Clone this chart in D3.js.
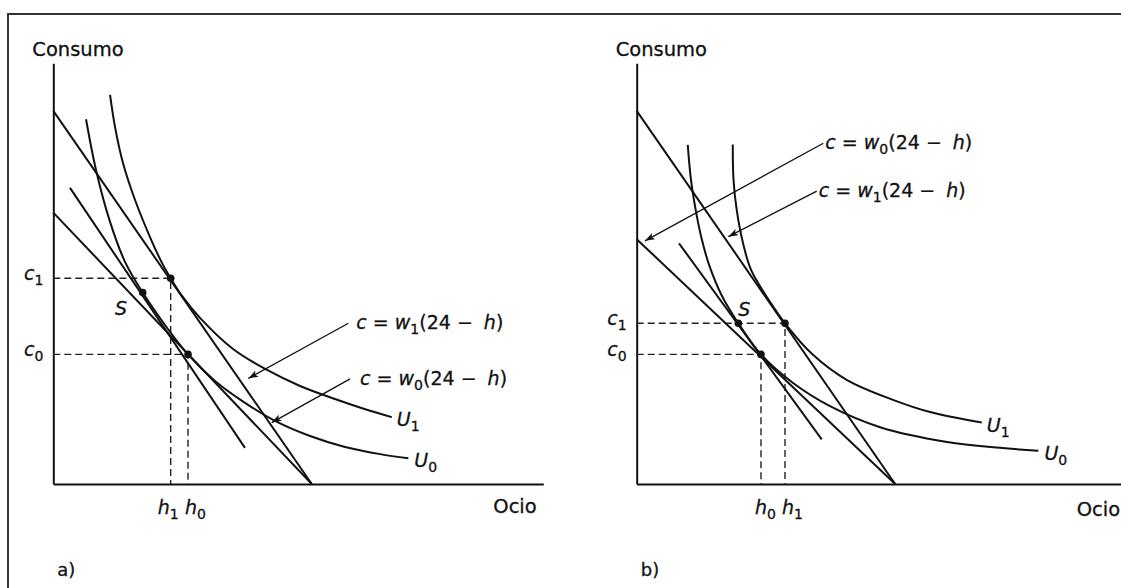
<!DOCTYPE html>
<html lang="es">
<head>
<meta charset="utf-8">
<title>Consumo y ocio</title>
<script src="https://d3js.org/d3.v7.min.js"></script>
<style>
  body{ margin:0; background:#fff; }
  svg{ display:block; font-family:'DejaVu Sans', sans-serif; }
  text{ fill:#111; stroke:#111; stroke-width:0.3; }
  .frame{ fill:none; stroke:#333; stroke-width:2; }
  .axis path{ stroke:#111; stroke-width:2; }
  .curve{ fill:none; stroke:#111; stroke-width:2; }
  .guide{ fill:none; stroke:#222; stroke-width:1.4; stroke-dasharray:7,4; }
  .pointer{ stroke:#111; stroke-width:1.3; }
  .title{ font-size:19.5px; }
  .lbl{ font-size:19px; }
  .eq{ font-size:19px; }
  .sub{ font-size:14px; font-style:normal; }
  .panel{ font-size:18px; }
</style>
</head>
<body>
<div id="chart"></div>
<script>
// h = horas de ocio (0..24 en el corte de la recta), c = consumo (unidades relativas)

// panel a)
const uA0 = [[3.04,86.7],[3.97,74.6],[5.27,62.3],[6.66,52.8],[8.30,45.5],[10.37,37.8],[12.51,30.8],
             [15.02,24.5],[17.80,19.3],[20.59,15.0],[23.84,11.4],[27.09,8.8],[30.34,7.1],[32.97,6.1]];
const uA1 = [[5.27,92.5],[5.73,84.9],[6.47,76.3],[7.59,67.5],[8.98,58.7],[10.10,52.5],[10.90,48.9],
             [11.95,44.7],[13.62,39.5],[16.69,32.1],[19.85,27.1],[22.91,23.3],[26.16,20.2],[29.41,17.4],[31.43,15.9]];
const lineA_w1 = [[0,88.7],[24,0]];
const lineA_w0 = [[0,64.5],[24,0]];
const lineA_comp = [[1.55,70.4],[17.80,8.6]];
const ptsA = [[10.90,48.9],[12.51,30.8],[8.30,45.5]];   // (h1,c1), (h0,c0), S

// panel b)
const uB0 = [[4.74,80.6],[5.04,72.3],[5.51,64.7],[6.06,58.0],[6.72,52.1],[7.92,44.7],[9.44,38.2],
             [11.54,30.8],[14.52,24.0],[17.95,18.5],[22.60,13.5],[28.82,10.0],[33.74,8.6],[37.30,7.9]];
const uB1 = [[8.92,80.7],[8.99,72.3],[9.29,65.1],[9.87,57.3],[10.62,50.9],[12.38,43.3],[13.77,38.2],
             [16.37,30.7],[19.53,24.7],[23.80,20.0],[27.24,17.1],[32.04,14.6]];
const lineB_w1 = [[0,88.7],[24,0]];
const lineB_w0 = [[0,58.2],[24,0]];
const lineB_comp = [[3.93,57.2],[17.18,10.6]];
const ptsB = [[13.77,38.2],[11.54,30.8],[9.44,38.2]];   // (h1,c1), (h0,c0), S

const W = 1121, H = 588;

const x = d3.scaleLinear().domain([0, 45.5]).range([0, 490]);
const y = d3.scaleLinear().domain([0, 100]).range([420.7, 0]);

const smooth = d3.line().x(d => x(d[0])).y(d => y(d[1])).curve(d3.curveCatmullRom.alpha(0.5));
const straight = d3.line().x(d => x(d[0])).y(d => y(d[1]));

const svg = d3.select('#chart').append('svg').attr('width', W).attr('height', H);

svg.append('defs').append('marker')
  .attr('id', 'arrow').attr('viewBox', '0 0 10 7').attr('refX', 10).attr('refY', 3.5)
  .attr('markerUnits', 'userSpaceOnUse').attr('markerWidth', 10).attr('markerHeight', 7)
  .attr('orient', 'auto')
  .append('path').attr('d', 'M0,0 L10,3.5 L0,7 L2.5,3.5 Z').attr('fill', '#111');

svg.append('path').attr('class', 'frame').attr('d', 'M8,' + H + ' V14 H' + W);

function sublabel(g, px, py, letter, sub, anchor){
  const t = g.append('text').attr('class', 'lbl').attr('x', px).attr('y', py)
    .attr('text-anchor', anchor || 'start');
  t.append('tspan').attr('font-style', 'italic').text(letter);
  t.append('tspan').attr('class', 'sub').attr('dy', 5).text(sub);
  return t;
}

function equation(g, px, py, sub){
  const t = g.append('text').attr('class', 'eq').attr('x', px).attr('y', py);
  t.append('tspan').attr('font-style', 'italic').text('c');
  t.append('tspan').text(' = ');
  t.append('tspan').attr('font-style', 'italic').text('w');
  t.append('tspan').attr('class', 'sub').attr('dy', 5).text(sub);
  t.append('tspan').attr('dy', -5).text('(24 −');
  t.append('tspan').attr('font-style', 'italic').attr('dx', 11).text('h');
  t.append('tspan').text(')');
}

function drawPanel(cfg){
  const g = svg.append('g').attr('transform', 'translate(' + cfg.ox + ',63.3)');

  g.append('g').attr('class', 'axis').attr('transform', 'translate(0,' + y(0) + ')')
    .call(d3.axisBottom(x).tickValues([]).tickSizeOuter(0));
  g.append('g').attr('class', 'axis')
    .call(d3.axisLeft(y).tickValues([]).tickSizeOuter(0));

  g.append('text').attr('class', 'title').attr('x', -21).attr('y', -7.5).text('Consumo');
  g.append('text').attr('class', 'title').attr('x', 440).attr('y', y(0) + cfg.ocioY).text('Ocio');
  g.append('text').attr('class', 'panel').attr('x', 4).attr('y', y(0) + 92).text(cfg.name);

  // guias punteadas
  const guides = [cfg.pts[0], cfg.pts[1]];
  g.selectAll('.guide').data(guides).enter().append('path').attr('class', 'guide')
    .attr('d', d => 'M0,' + y(d[1]) + 'H' + x(d[0]) + 'V' + y(0));

  [cfg.w1, cfg.w0, cfg.comp].forEach(l => g.append('path').attr('class', 'curve').attr('d', straight(l)));
  [cfg.u0, cfg.u1].forEach(u => g.append('path').attr('class', 'curve').attr('d', smooth(u)));

  g.selectAll('circle').data(cfg.pts).enter().append('circle')
    .attr('cx', d => x(d[0])).attr('cy', d => y(d[1])).attr('r', 3.8).attr('fill', '#111');

  // etiquetas de los ejes
  sublabel(g, -10, y(cfg.pts[0][1]) + 2, 'c', '1', 'end');
  sublabel(g, -10, y(cfg.pts[1][1]) + 2, 'c', '0', 'end');
  sublabel(g, x(cfg.pts[0][0]) + cfg.hdx[0], y(0) + 30, 'h', '1');
  sublabel(g, x(cfg.pts[1][0]) + cfg.hdx[1], y(0) + 30, 'h', '0');

  g.append('text').attr('class', 'lbl').attr('font-style', 'italic')
    .attr('x', x(cfg.pts[2][0]) + cfg.sOff[0]).attr('y', y(cfg.pts[2][1]) + cfg.sOff[1]).text('S');

  const e0 = cfg.u0[cfg.u0.length - 1], e1 = cfg.u1[cfg.u1.length - 1];
  sublabel(g, x(e1[0]) + 5, y(e1[1]) + 9, 'U', '1');
  sublabel(g, x(e0[0]) + 6, y(e0[1]) + 9, 'U', '0');

  cfg.notes.forEach(n => {
    g.append('line').attr('class', 'pointer')
      .attr('x1', x(n.from[0])).attr('y1', y(n.from[1]))
      .attr('x2', x(n.to[0])).attr('y2', y(n.to[1]))
      .attr('marker-end', 'url(#arrow)');
    equation(g, x(n.from[0]) + n.dx, y(n.from[1]) + 6, n.sub);
  });
}

drawPanel({
  name: 'a)', ox: 53.3, ocioY: 29,
  u0: uA0, u1: uA1, w1: lineA_w1, w0: lineA_w0, comp: lineA_comp, pts: ptsA,
  hdx: [-13, -3], sOff: [-27.7, 22.4],
  notes: [
    { sub: '1', from: [27.40, 38.2], to: [18.11, 25.1], dx: 8 },
    { sub: '0', from: [27.56, 25.0], to: [20.28, 14.6], dx: 10 }
  ]
});

drawPanel({
  name: 'b)', ox: 636.7, ocioY: 32,
  u0: uB0, u1: uB1, w1: lineB_w1, w0: lineB_w0, comp: lineB_comp, pts: ptsB,
  hdx: [-3, -6], sOff: [0, -7],
  notes: [
    { sub: '0', from: [17.33, 81.0], to: [0.77, 57.8], dx: 2 },
    { sub: '1', from: [16.72, 69.6], to: [8.51, 58.8], dx: 2 }
  ]
});
</script>
</body>
</html>
